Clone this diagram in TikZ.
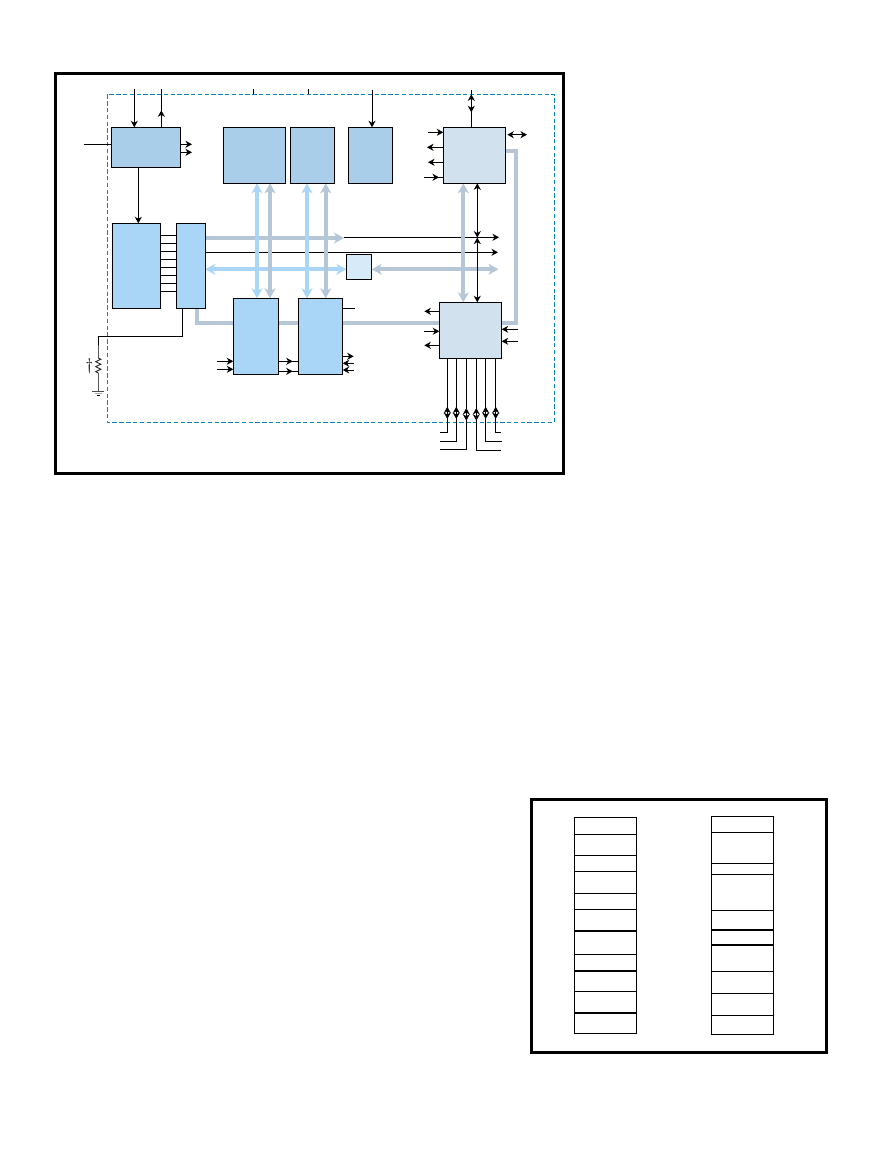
\documentclass[tikz,border=0pt]{standalone}
\usepackage{amsmath,amssymb,amsfonts}
\usetikzlibrary{arrows.meta,calc,backgrounds,decorations.markings}
\definecolor{blkdark}{HTML}{A9CEE9}
\definecolor{blksky}{HTML}{A9D6F7}
\definecolor{blkpale}{HTML}{D1E2EE}
\definecolor{blkice}{HTML}{D6EAF8}
\definecolor{busgray}{HTML}{B5C7D7}
\definecolor{dashblue}{HTML}{0A85B9}
\tikzset{
  tipsmall/.tip={Stealth[length=6.5pt,width=7pt,inset=2pt]},
  tipwide/.tip={Stealth[length=10pt,width=11pt,inset=3pt]},
  blk/.style={draw=black,line width=1pt,inner sep=0pt,outer sep=0pt},
  blkA/.style={blk,fill=blkdark},
  blkB/.style={blk,fill=blksky},
  blkC/.style={blk,fill=blkpale},
  wire/.style={draw=black,line width=1pt},
  wiretip/.style={wire,-tipsmall},
  wireback/.style={wire,tipsmall-},
  wiretwo/.style={wire,tipsmall-tipsmall},
  midtip/.style={wire,postaction={decorate},decoration={markings,mark=at position #1 with {\arrow{tipsmall}}}},
  twotip/.style 2 args={wire,postaction={decorate},decoration={markings,
    mark=at position #1 with {\arrowreversed{tipsmall}},mark=at position #2 with {\arrow{tipsmall}}}},
  busG/.style={draw=busgray,line width=3.8pt},
  busS/.style={draw=blksky,line width=3.8pt},
  frame/.style={draw=black,line width=3pt},
  cell/.style={draw=black,line width=1pt},
  cellbar/.style={draw=black,line width=1.7pt}
}
\begin{document}
\begin{tikzpicture}[x=1pt,y=-1pt]
\useasboundingbox (0,0) rectangle (881,1175);
\draw[frame] (55.7,73.3) rectangle (563.5,473.3);
\draw[draw=dashblue,line width=1pt,dash pattern=on 4.4pt off 2.4pt] (107.3,94.3) rectangle (554.3,422.3);

\node[blkA,minimum width=69pt,minimum height=40pt] (osc) at (145.8,147.3) {};
\node[blkA,minimum width=62pt,minimum height=56pt] (romA) at (254.3,155.3) {};
\node[blkA,minimum width=44pt,minimum height=56pt] (romB) at (312.3,155.3) {};
\node[blkA,minimum width=44pt,minimum height=56pt] (ramC) at (370.3,155.3) {};
\node[blkC,minimum width=62.4pt,minimum height=56pt] (ioE) at (474.5,155.3) {};
\node[blkB,minimum width=48pt,minimum height=85pt] (prog) at (136.3,265.8) {};
\node[blkB,minimum width=29pt,minimum height=85pt] (sel) at (190.8,265.8) {};
\node[blkB,minimum width=45.4pt,minimum height=76pt] (timA) at (256,336.3) {};
\node[blkB,minimum width=44.4pt,minimum height=76pt] (timB) at (320.5,336.3) {};
\node[blkC,minimum width=62.4pt,minimum height=56pt] (conv) at (470.5,330.3) {};
\node[blk,fill=blkice,minimum width=25.4pt,minimum height=25pt] (gate) at (359,266.8) {};

\foreach \n/\p in {busA/{197,323.3},busB/{516,151},topA/{134.3,89},topB/{161.3,89},topC/{372,90},topD/{471.3,90},
  tickA/{253.3,89},tickB/{308.3,89},oscIn/{84,144.3},oscOutA/{192,144.3},oscOutB/{192,152.3},
  ioInA/{428,132.3},ioOutA/{427,147.3},ioOutB/{428,162.3},ioInB/{424,177.3},ioR/{527,134.7},
  lnA/{344,237.3},lnB/{499,237.3},lnC/{498,252.3},busC/{477.3,237.6},
  timInA/{217,361.3},timInB/{217,369.3},stubT/{354.7,308.3},timOut/{353.7,356.3},timInC/{353.7,363.3},timInD/{353.7,370},
  cvOutA/{424.3,311.3},cvIn/{424,331.3},cvOutB/{424.3,345.3},cvInA/{518,329.3},cvInB/{518,341.3},
  padA/{440,432.3},padB/{440,441.3},padC/{440,449.3},padD/{501,450.3},padE/{502,441.3},padF/{501,432.3},
  rTop/{98.3,336.3},rA/{98.3,345},rB/{98.3,358},rC/{98.3,373},gnd/{98.3,391}}
  \coordinate (\n) at (\p);

\begin{scope}[on background layer]
\draw[busG] (sel.south -| busA) -- (busA) -- (conv.west |- busA);
\draw[busG] (ioE.east |- busB) -- (busB) -- (busB |- busA) -- (conv.east |- busA);
\draw[busG,-tipwide] (sel.east |- 0,238) -- (344,238);
\draw[busG,tipwide-tipwide] (gate.east |- 0,269.3) -- (498.5,269.3);
\draw[busS,tipwide-tipwide] (sel.east |- 0,269.3) -- (gate.west |- 0,269.3);
\draw[wiretip] (lnA) -- (lnB);
\draw[wiretip] (sel.east |- lnC) -- (lnC);
\foreach \xx in {257,307}
  \draw[busS,tipwide-tipwide] (\xx,183.3) -- (\xx,298.3);
\foreach \xx in {270,325.7}
  \draw[busG,tipwide-tipwide] (\xx,183.3) -- (\xx,298.3);
\draw[busG,tipwide-tipwide] (463.3,183.3) -- (463.3,302.3);
\end{scope}

\draw[wiretip] (topA) -- (topA |- osc.north);
\draw[midtip=17pt] (topB |- osc.north) -- (topB);
\draw[wire] (tickA) -- (tickA |- 0,94.3);
\draw[wire] (tickB) -- (tickB |- 0,94.3);
\draw[wiretip] (topC) -- (topC |- ramC.north);
\draw[twotip={15pt}{33pt}] (topD |- ioE.north) -- (topD);
\draw[wire] (oscIn) -- (oscIn -| osc.west);
\draw[wiretip] (osc.east |- oscOutA) -- (oscOutA);
\draw[wiretip] (osc.east |- oscOutB) -- (oscOutB);
\draw[wiretip] (osc.south -| 138.3,0) -- (prog.north -| 138.3,0);
\foreach \yy in {235.3,243.3,...,291.3}
  \draw[wire] (prog.east |- 0,\yy) -- (sel.west |- 0,\yy);
\draw[wiretip] (ioInA) -- (ioInA -| ioE.west);
\draw[wiretip] (ioE.west |- ioOutA) -- (ioOutA);
\draw[wiretip] (ioE.west |- ioOutB) -- (ioOutB);
\draw[midtip=15pt] (ioInB) -- (ioInB -| ioE.west);
\draw[wiretwo] (507.3,134.7) -- (ioR);
\draw[wiretwo] (busC |- ioE.south) -- (busC);
\draw[wiretwo] (busC) -- (busC |- conv.north);
\draw[wiretip] (timInA) -- (timInA -| timA.west);
\draw[wiretip] (timInB) -- (timInB -| timA.west);
\draw[midtip=14pt] (timA.east |- timInA) -- (timB.west |- timInA);
\draw[midtip=14pt] (timA.east |- 0,371.3) -- (timB.west |- 0,371.3);
\draw[wire] (stubT -| timB.east) -- (stubT);
\draw[wiretip] (timB.east |- timOut) -- (timOut);
\draw[wireback] (timB.east |- timInC) -- (timInC);
\draw[wireback] (timB.east |- timInD) -- (timInD);
\draw[wiretip] (conv.west |- cvOutA) -- (cvOutA);
\draw[wiretip] (cvIn) -- (cvIn -| conv.west);
\draw[wiretip] (conv.west |- cvOutB) -- (cvOutB);
\draw[wiretip] (cvInA) -- (cvInA -| conv.east);
\draw[wiretip] (cvInB) -- (cvInB -| conv.east);
\draw[twotip={48.4pt}{60.7pt}] (447.3,358.3) |- (padA);
\draw[twotip={48.4pt}{60.7pt}] (456.3,358.3) |- (padB);
\draw[twotip={49.7pt}{62.4pt}] (466.3,358.3) |- (padC);
\draw[twotip={49.7pt}{62.4pt}] (476.3,358.3) |- (padD);
\draw[twotip={48.4pt}{60.7pt}] (485.7,358.3) |- (padE);
\draw[twotip={48.4pt}{60.7pt}] (495.7,358.3) |- (padF);

\draw[wire] (sel.south -| 182.3,0) |- (rTop) -- (rA);
\draw[draw=black!65,line width=1pt] (rA) -- (rB);
\draw[draw=black!85,line width=0.9pt] (rB) -- ++(2.6,1.2) -- ++(-5.2,2.5) -- ++(5.2,2.5) -- ++(-5.2,2.5) -- ++(5.2,2.5) -- ++(-5.2,2.5) -- (rC);
\draw[draw=black!65,line width=1pt] (rC) -- (gnd);
\draw[draw=black!70,line width=1pt] ($(gnd)+(-6,0)$) -- ($(gnd)+(6,0)$);
\draw[draw=black!35,line width=1.2pt] ($(gnd)+(-3.7,2.2)$) -- ($(gnd)+(3.7,2.2)$);
\draw[draw=black,line width=0.9pt] ($(gnd)+(-1.8,4.4)$) -- ($(gnd)+(1.8,4.4)$);
\node[font=\fontsize{17}{17}\selectfont,inner sep=0pt] (plus) at (89.3,366.5) {\dag};

\draw[frame] (531.3,799.7) rectangle (826.7,1052.7);
\draw[cell] (574.3,817.3) rectangle (636.3,1033.3);
\foreach \yy in {834.3,855.3,871.3,893.3,909.3,954.3,991.3}
  \draw[cell] (574.3,\yy) -- (636.3,\yy);
\foreach \yy in {930.7,970.7,1013}
  \draw[cellbar] (574.3,\yy) -- (636.3,\yy);
\draw[cell] (711.3,816.3) rectangle (773.3,1034.3);
\foreach \yy in {832.3,863.3,874.3,910.3,971.3,993.3,1015.3}
  \draw[cell] (711.3,\yy) -- (773.3,\yy);
\foreach \yy in {929.7,945}
  \draw[cellbar] (711.3,\yy) -- (773.3,\yy);
\end{tikzpicture}
\end{document}
